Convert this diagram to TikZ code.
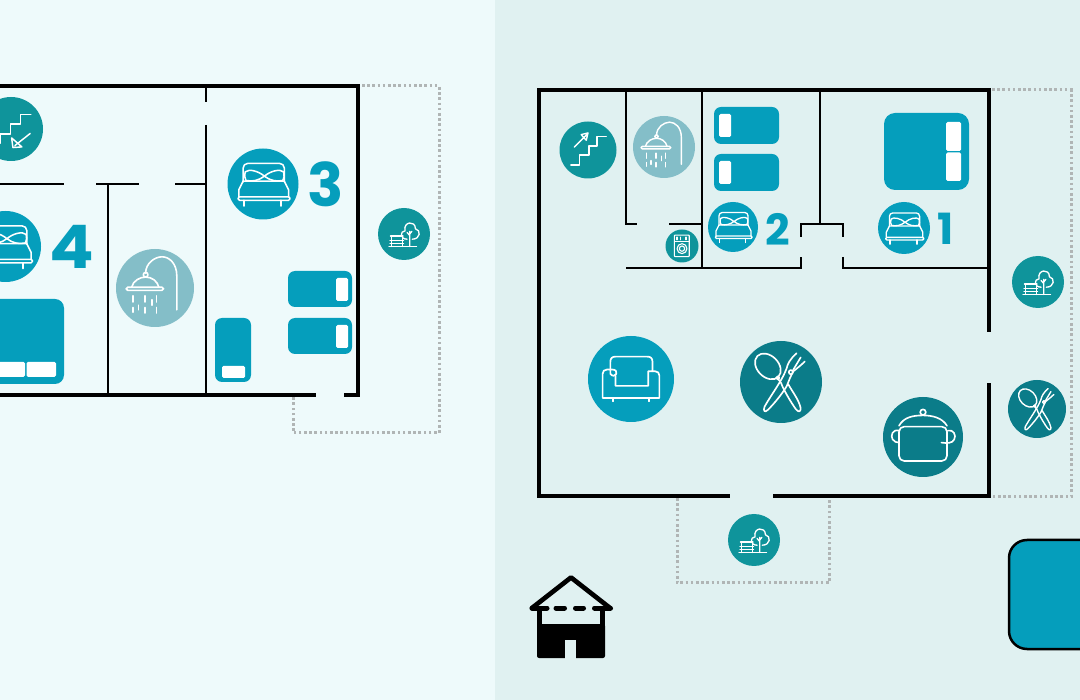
\documentclass[tikz,border=0pt]{standalone}
\usepackage{fontspec}
\newfontfamily\numfont[Scale=1]{Poppins Bold}
\definecolor{bgL}{HTML}{EEFAFB}
\definecolor{bgR}{HTML}{E0F1F1}
\definecolor{bedc}{HTML}{059EBC}
\definecolor{tealc}{HTML}{0F949B}
\definecolor{darkt}{HTML}{0B7C89}
\definecolor{showc}{HTML}{84BEC8}
\definecolor{dotc}{HTML}{B0B5B5}
\tikzset{
  wall/.style={line width=2.4pt,black},
  outer/.style={line width=3.1pt,black,line cap=rect},
  dots/.style={line width=3pt,dotc,dash pattern=on 2.6pt off 2.6pt},
  bedbox/.style={fill=bedc},
  pillow/.style={fill=white},
  iconcirc/.style={circle,inner sep=0pt,outer sep=0pt,draw=none},
  ico/.style={draw=white,line width=#1,line cap=round,line join=round,fill=none},
  ico/.default=1.2pt,
  numlab/.style={inner sep=0pt,outer sep=0pt,text=bedc}
}
\newcommand{\icobed}{%
  \draw[ico=\lw,rounded corners=\rc] (-28,-3) -- (-28,-29) -- (30,-29) -- (30,-3);
  \draw[ico=\lw] (-34,18) -- (-34,8) -- (-28,-4) -- (30,-4) -- (36,8) -- (36,18);
  \draw[ico=\lw,rounded corners=\rcs] (-35,18) rectangle (38,23);
  \draw[ico=\lw] (-27,23) -- (-27,31) (25,23) -- (25,31);
  \draw[ico=\lw,fill=none] (2,-11) .. controls (-6,-18) and (-20,-22) .. (-25,-17) .. controls (-26,-12) and (-26,-8) .. (-24,-5)
     .. controls (-15,-3) and (-6,-5) .. (2,-11) .. controls (10,-18) and (24,-22) .. (29,-17) .. controls (30,-12) and (30,-8) .. (28,-5) .. controls (18,-3) and (10,-5) .. (2,-11);
}
\newcommand{\icoshower}{%
  \draw[ico=\lw] (28,28) -- (28,-15) .. controls (28,-32) and (18,-40) .. (9,-40) .. controls (0,-40) and (-12,-32) .. (-12,-19);
  \draw[ico=\lw] (-12,-17) circle (3);
  \draw[ico=\lw] (-30,-1) .. controls (-28,-9) and (-20,-14) .. (-12,-14) .. controls (-4,-14) and (3,-9) .. (5,-1);
  \draw[ico=\lw,rounded corners=\rcs] (-37,-1) rectangle (11,3);
  \draw[ico=\lw] (-28,10) -- (-28,18) (-28,25) -- (-28,31) (-13,10) -- (-13,18) (-13,25) -- (-13,32) (-4,15) -- (-4,22) (2,10) -- (2,18) (2,25) -- (2,32) (-21,22) -- (-21,28);
}
\newcommand{\icostairsup}{%
  \draw[ico=\lw] (-30,26) -- (-15,26) -- (-15,9) -- (2,9) -- (2,-7) -- (16,-7) -- (16,-24) -- (32,-24);
  \draw[ico=\lw] (-24,-5) -- (-2,-27) (-12,-27) -- (0,-30) -- (-3,-17) -- cycle;
}
\newcommand{\icostairsdn}{%
  \draw[ico=\lw] (31,-23) -- (15,-23) -- (15,-8) -- (-1,-8) -- (-1,8) -- (-17,8) -- (-17,23) -- (-32,23);
  \draw[ico=\lw] (30,7) -- (6,26) (1,14) -- (3,29) -- (17,28) -- cycle;
}
\newcommand{\icotree}{%
  \draw[ico=\lw] (-29,24) -- (24,24);
  \draw[ico=\lw] (-26,4) -- (-2,4) (-27,12) -- (-1,12) (-27,18) -- (-1,18) (-24,4) -- (-24,24) (-3,4) -- (-3,24);
  \draw[ico=\lw] (11,-5) -- (11,24) (11,3) -- (6,-3) (11,0) -- (15,-5);
  \draw[ico=\lw] (6,10) .. controls (-8,10) and (-8,-6) .. (2,-6) .. controls (-2,-24) and (22,-27) .. (22,-10) .. controls (33,-8) and (32,10) .. (16,10);
}
\newcommand{\icosofa}{%
  \draw[ico=\lw] (-24,-11) -- (-24,-20) .. controls (-24,-24) and (-22,-26) .. (-18,-26) -- (19,-26) .. controls (23,-26) and (25,-24) .. (25,-20) -- (25,-9) -- (20,-9) -- (20,8) -- (-18,8) -- (-18,-4);
  \draw[ico=\lw] (25,-9) -- (28,-9) .. controls (31,-9) and (33,-7) .. (33,-4) -- (33,22) -- (-33,22) -- (-33,-6) .. controls (-33,-9) and (-31,-11) .. (-28,-11) -- (-22,-11) .. controls (-18,-11) and (-16,-9) .. (-17,-6) .. controls (-18,-3) and (-22,-3) .. (-24,-6) -- (-24,-11);
  \draw[ico=\lw] (-21,22) -- (-21,26) (21,22) -- (21,26);
}
\newcommand{\icofork}{%
  \draw[ico=\lw,rotate around={-45:(-16,-19)}] (-16,-19) ellipse (18 and 13);
  \draw[ico=\lw] (-4,-5) circle (2);
  \draw[ico=\lw] (-3,-3) .. controls (0,0) and (1,3) .. (2,6) .. controls (7,16) and (13,26) .. (18,33) .. controls (21,37) and (24,37) .. (24,32) .. controls (22,22) and (14,12) .. (9,3);
  \draw[ico=\lw] (19,-35) .. controls (11,-28) and (8,-22) .. (7,-17) .. controls (4,-9) and (1,-4) .. (-2,1) .. controls (-8,11) and (-15,21) .. (-20,30) .. controls (-22,35) and (-20,38) .. (-16,34) .. controls (-8,26) and (1,15) .. (7,5) .. controls (9,0) and (12,-8) .. (15,-13) .. controls (20,-17) and (25,-21) .. (29,-25);
  \draw[ico=\lw] (15,-15) -- (24,-30) (12,-12) circle (2.5);
}
\newcommand{\icopot}{%
  \draw[ico=\lw,rounded corners=\rc] (-30,-13) -- (-30,30) -- (30,30) -- (30,-13) -- cycle;
  \draw[ico=\lw] (-30,-14) .. controls (-24,-25) and (-12,-27) .. (0,-27) .. controls (12,-27) and (24,-24) .. (30,-14);
  \draw[ico=\lw] (0,-31) circle (3.5);
  \draw[ico=\lw] (-30,-8) .. controls (-38,-10) and (-41,-2) .. (-38,3) .. controls (-36,6) and (-33,7) .. (-30,7);
  \draw[ico=\lw] (31,-8) .. controls (38,-10) and (42,-2) .. (39,3) .. controls (37,8) and (30,8) .. (23,7);
}
\newcommand{\icowasher}{%
  \draw[ico=\lw,rounded corners=\rcs] (-23,-33) rectangle (22,32);
  \draw[ico=\lw] (-23,-14) -- (22,-14) (-15,-27) -- (-15,-19) (-5,-27) -- (-5,-19) (12,-27) -- (12,-19);
  \draw[ico=\lw] (0,8) circle (15) (0,8) circle (8);
}
\newcommand{\iconat}[6]{%
  \node[iconcirc,fill=#5,minimum size=#4*2pt] (#1) at (#2,#3) {};
  \begin{scope}[shift={(#2,#3)},scale=#4/50]
    \def\lw{{0.75pt+#4*0.022pt}}%
    \def\rc{{#4*0.13pt}}%
    \def\rcs{{#4*0.04pt}}%
    #6
  \end{scope}}
\begin{document}
\begin{tikzpicture}[x=1pt,y=-1pt]
\useasboundingbox (0,0) rectangle (1080,700);
\fill[bgL] (0,0) rectangle (495,700);
\fill[bgR] (495,0) rectangle (1080,700);

% ---- left plan ----
\draw[dots] (362,86) -- (439,86) -- (439,433) -- (293,433) -- (293,396);
\draw[outer] (-3,86) -- (358,86) -- (358,395) -- (346,395);
\draw[outer] (-3,395) -- (314,395);
\draw[wall] (206,86) -- (206,102) (206,125) -- (206,395);
\draw[wall] (-3,184) -- (64,184) (96,184) -- (139,184) (175,184) -- (206,184);
\draw[wall] (108,184) -- (108,395);

\iconat{stairL}{11}{129}{32}{tealc}{\icostairsdn}
\iconat{bedfour}{5.5}{246.5}{35.5}{bedc}{\icobed}
\node[numlab,font=\numfont\fontsize{60}{60}\selectfont,anchor=center] (numfour) at (71.5,247) {\scalebox{1.1}[1]{4}};
\fill[bedbox,rounded corners=9] (-30,299) rectangle (64,384);
\fill[pillow,rounded corners=1.5] (-6,362) rectangle (25,377);
\fill[pillow,rounded corners=1.5] (26.5,362) rectangle (56,377);
\iconat{showerL}{155}{288}{39}{showc}{\icoshower}
\iconat{bedthree}{263}{184}{35.5}{bedc}{\icobed}
\node[numlab,font=\numfont\fontsize{60}{60}\selectfont,anchor=center] (numthree) at (325.5,184.5) {3};
\iconat{treeL}{404}{234}{26}{tealc}{\icotree}
\fill[bedbox,rounded corners=7] (288,271) rectangle (352,307);
\fill[pillow,rounded corners=1.5] (336,278) rectangle (348,301);
\fill[bedbox,rounded corners=7] (288,318) rectangle (352,354);
\fill[pillow,rounded corners=1.5] (336,325) rectangle (348,348);
\fill[bedbox,rounded corners=7] (215,318) rectangle (251,382);
\fill[pillow,rounded corners=1.5] (222,366) rectangle (245,378);

% ---- right plan ----
\draw[dots] (992,90) -- (1071,90) -- (1071,497) -- (992,497);
\draw[dots] (677,498) -- (677,583) -- (829,583) -- (829,498);
\draw[outer] (728,496) -- (539,496) -- (539,90) -- (989,90) -- (989,330);
\draw[outer] (989,385) -- (989,496) -- (775,496);
\draw[wall] (626,90) -- (626,224) -- (637,224);
\draw[wall] (669,224) -- (702,224);
\draw[wall] (702,90) -- (702,268);
\draw[wall] (626,268) -- (801,268) -- (801,257);
\draw[wall] (820,90) -- (820,224);
\draw[wall] (801,237) -- (801,224) -- (843,224) -- (843,237);
\draw[wall] (843,257) -- (843,268) -- (989,268);

\iconat{stairR}{588}{150}{28.5}{tealc}{\icostairsup}
\iconat{showerR}{664}{147}{31}{showc}{\icoshower}
\fill[bedbox,rounded corners=7] (714,107) rectangle (779,144);
\fill[pillow,rounded corners=1.5] (719,114) rectangle (731,137);
\fill[bedbox,rounded corners=7] (714,154) rectangle (779,191);
\fill[pillow,rounded corners=1.5] (719,161) rectangle (731,184);
\iconat{bedtwo}{733}{227}{25}{bedc}{\icobed}
\node[numlab,font=\numfont\fontsize{43}{43}\selectfont,anchor=center] (numtwo) at (778,229) {2};
\iconat{washer}{682}{246}{16.5}{tealc}{\icowasher}
\fill[bedbox,rounded corners=11] (884,113) rectangle (969,190);
\fill[pillow,rounded corners=1.5] (946,122) rectangle (961,151);
\fill[pillow,rounded corners=1.5] (946,152.5) rectangle (961,181);
\iconat{bedone}{904}{228}{26}{bedc}{\icobed}
\node[numlab,font=\numfont\fontsize{43}{43}\selectfont,anchor=center] (numone) at (946,229) {1};
\iconat{treeR}{1038}{282}{26}{tealc}{\icotree}
\iconat{sofa}{631}{379}{43}{bedc}{\icosofa}
\iconat{dine}{781}{382}{41}{darkt}{\icofork}
\iconat{pot}{923}{437}{40}{darkt}{\icopot}
\iconat{forksmall}{1037}{409}{29}{darkt}{\icofork}
\iconat{treeB}{754}{540}{26}{tealc}{\icotree}

% ---- house ----
\draw[line width=4.7pt,line cap=round,line join=round] (532,608) -- (571,577.5) -- (610,608);
\draw[line width=5pt,line cap=round] (532,608) -- (547,608) (556,608) -- (564.5,608) (575.5,608) -- (583.5,608) (594.5,608) -- (610.5,608);
\fill[black] (537,606) rectangle (542,626);
\fill[black] (600,606) rectangle (605,626);
\fill[black,rounded corners=2] (537,624) rectangle (605,658);
\fill[bgR] (565,640) rectangle (576,660);

% ---- swatch ----
\draw[line width=2.5pt,black,fill=bedc,rounded corners=18] (1100,540) -- (1009,540) -- (1009,649) -- (1100,649);
\end{tikzpicture}
\end{document}
